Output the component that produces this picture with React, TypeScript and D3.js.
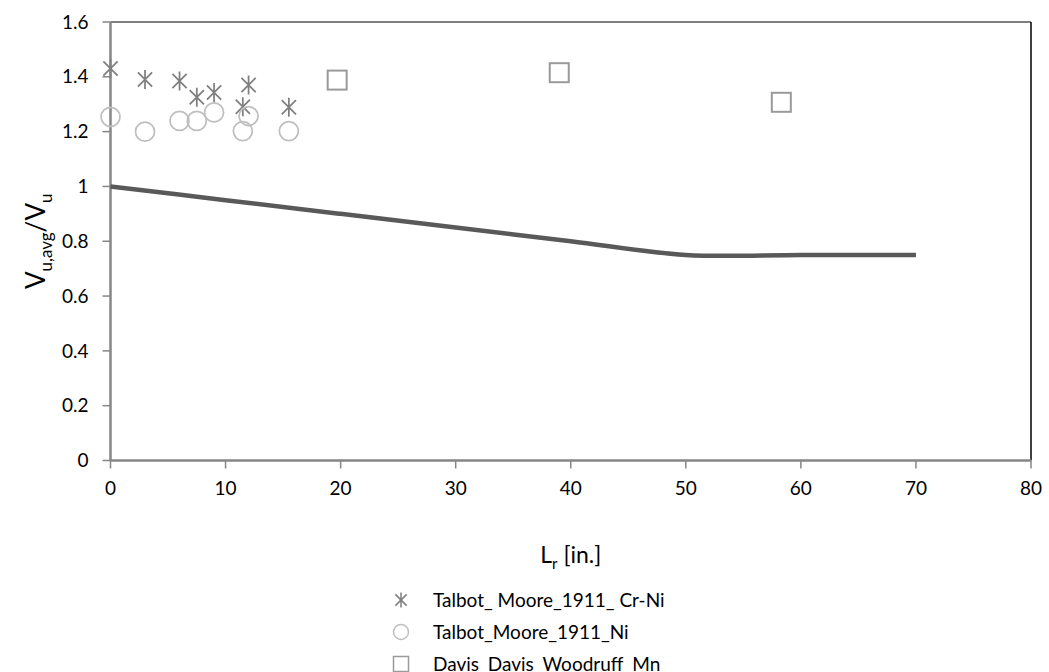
import React from "react";
import * as d3 from "d3";

const crNiX = [0, 3, 6, 7.5, 9, 11.5, 12, 15.5];
const crNiY = [1.43, 1.39, 1.385, 1.325, 1.343, 1.291, 1.37, 1.289];
const niX = [0, 3, 6, 7.5, 9, 11.5, 12, 15.5];
const niY = [1.254, 1.2, 1.239, 1.239, 1.27, 1.202, 1.257, 1.202];
const mnX = [19.7, 39.0, 58.3];
const mnY = [1.388, 1.415, 1.307];
const lineX = [0, 10, 20, 30, 40, 50, 60, 70];
const lineY = [1.0, 0.95, 0.9, 0.85, 0.8, 0.75, 0.75, 0.75];
const xTicks = [0, 10, 20, 30, 40, 50, 60, 70, 80];
const yTicks = [0, 0.2, 0.4, 0.6, 0.8, 1, 1.2, 1.4, 1.6];
const legendLabels = ["Talbot_ Moore_1911_ Cr-Ni", "Talbot_Moore_1911_Ni", "Davis_Davis_Woodruff_Mn"];

const W = 1049, H = 672;
const FONT = "Lato, 'Open Sans', sans-serif";

function starPath(cx: number, cy: number, r: number) {
  const d = r * 0.75;
  return `M${cx - d},${cy - d}L${cx + d},${cy + d}M${cx - d},${cy + d}L${cx + d},${cy - d}M${cx},${cy - r}L${cx},${cy + r}`;
}

export default function App() {
  const x = d3.scaleLinear().domain([0, 80]).range([110.5, 1031]);
  const y = d3.scaleLinear().domain([0, 1.6]).range([460.5, 22]);
  const line = d3
    .line<number>()
    .x((_, i) => x(lineX[i]))
    .y((d) => y(d))
    .curve(d3.curveCatmullRom.alpha(0.5));
  const fmt = (v: number) => (v === 0 || v === 1 ? String(v) : v.toFixed(1));
  const starC = "#7f7f7f";
  const circC = "#bfbfbf";
  const sqC = "#9a9a9a";
  const axisC = "#868686";
  const legY = [600, 632, 664];
  return (
    <svg width={W} height={H} style={{ position: "absolute", left: 0, top: 0, background: "#fff" }}>
      <rect x={0} y={0} width={W} height={H} fill="#fff" />
      <line x1={x(0)} x2={x(80)} y1={y(1.6)} y2={y(1.6)} stroke="#000" strokeWidth={1} />
      <line x1={x(80)} x2={x(80)} y1={y(1.6)} y2={y(0)} stroke="#000" strokeWidth={1.5} />
      {yTicks.map((t) => (
        <g key={"y" + t}>
          <line x1={x(0) - 8} x2={x(0)} y1={y(t)} y2={y(t)} stroke={axisC} strokeWidth={1.5} />
          <text x={x(0) - 22} y={y(t)} dy="0.35em" textAnchor="end" fontSize={19} fontFamily={FONT} fill="#000">
            {fmt(t)}
          </text>
        </g>
      ))}
      {xTicks.map((t) => (
        <g key={"x" + t}>
          <line x1={x(t)} x2={x(t)} y1={y(0)} y2={y(0) + 8} stroke={axisC} strokeWidth={1.5} />
          <text x={x(t)} y={y(0) + 28} dy="0.35em" textAnchor="middle" fontSize={19} fontFamily={FONT} fill="#000">
            {t}
          </text>
        </g>
      ))}
      <line x1={x(0)} x2={x(80)} y1={y(0)} y2={y(0)} stroke={axisC} strokeWidth={2.5} />
      <line x1={x(0)} x2={x(0)} y1={y(0)} y2={y(1.6)} stroke={axisC} strokeWidth={2.5} />
      <path d={line(lineY) || ""} fill="none" stroke="#595959" strokeWidth={4.5} />
      {crNiX.map((v, i) => (
        <path key={"s" + i} d={starPath(x(v), y(crNiY[i]), 9.5)} stroke={starC} strokeWidth={1.75} fill="none" />
      ))}
      {niX.map((v, i) => (
        <circle key={"c" + i} cx={x(v)} cy={y(niY[i])} r={9.5} stroke={circC} strokeWidth={1.75} fill="none" />
      ))}
      {mnX.map((v, i) => (
        <rect key={"q" + i} x={x(v) - 9.5} y={y(mnY[i]) - 9.5} width={19} height={19} stroke={sqC} strokeWidth={2} fill="none" />
      ))}
      <text transform={`translate(36,${(y(0) + y(1.6)) / 2}) rotate(-90)`} textAnchor="middle" dy="0.35em" fontSize={26} fontFamily={FONT} fill="#000">
        V<tspan fontSize={17} dy={7}>u,avg</tspan>
        <tspan dy={-7}>/V</tspan>
        <tspan fontSize={17} dy={7}>u</tspan>
      </text>
      <text x={(x(0) + x(80)) / 2} y={555} textAnchor="middle" dy="0.35em" fontSize={23} fontFamily={FONT} fill="#000">
        L<tspan fontSize={15} dy={6}>r</tspan>
        <tspan dy={-6}> [in.]</tspan>
      </text>
      <path d={starPath(401, legY[0], 7.5)} stroke={starC} strokeWidth={1.5} fill="none" />
      <circle cx={401} cy={legY[1]} r={7.5} stroke={circC} strokeWidth={1.5} fill="none" />
      <rect x={393.5} y={legY[2] - 7.5} width={15} height={15} stroke={sqC} strokeWidth={1.5} fill="none" />
      {legendLabels.map((l, i) => (
        <text key={l} x={433} y={legY[i]} dy="0.35em" fontSize={19} fontFamily={FONT} fill="#000">
          {l}
        </text>
      ))}
    </svg>
  );
}
